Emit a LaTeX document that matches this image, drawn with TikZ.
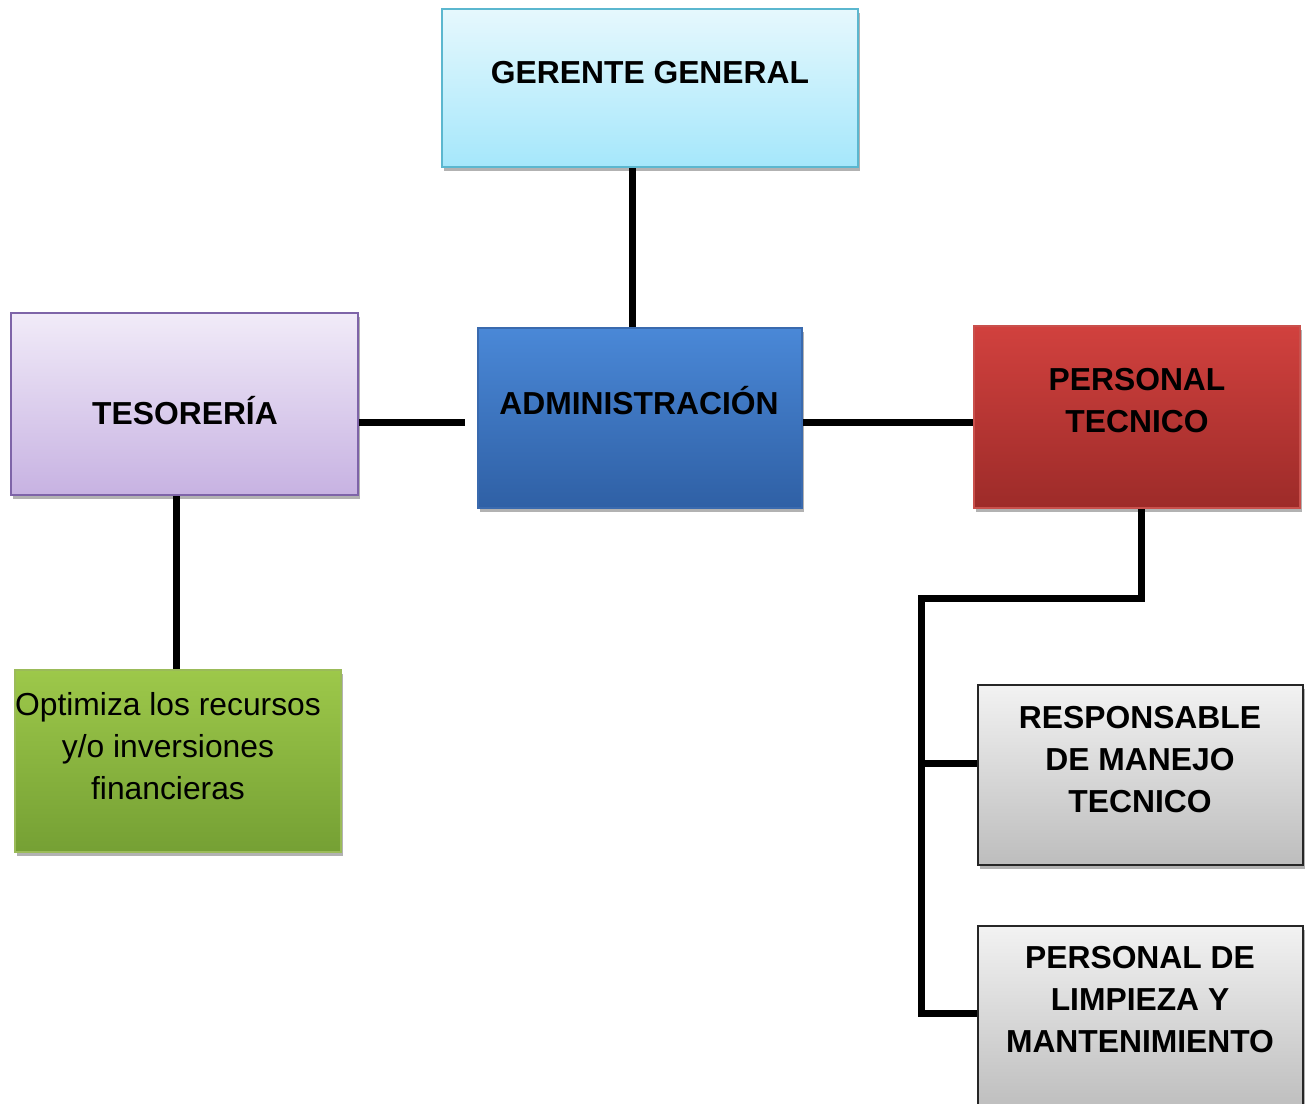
\documentclass[tikz,border=0pt]{standalone}
\usepackage{fontspec}
\setmainfont{Liberation Sans}
\usetikzlibrary{shadows}
\definecolor{gerT}{HTML}{E6F8FD}\definecolor{gerB}{HTML}{A5E7FB}\definecolor{gerD}{HTML}{5BB7CF}
\definecolor{tesT}{HTML}{F1EBF8}\definecolor{tesB}{HTML}{C7B2E2}\definecolor{tesD}{HTML}{7E64A8}
\definecolor{admT}{HTML}{4A88D7}\definecolor{admB}{HTML}{2F60A5}\definecolor{admD}{HTML}{3A6AAE}
\definecolor{ptT}{HTML}{D1413E}\definecolor{ptB}{HTML}{9D2B29}\definecolor{ptD}{HTML}{C9504C}
\definecolor{grT}{HTML}{F2F2F2}\definecolor{grB}{HTML}{BDBDBD}\definecolor{grD}{HTML}{262626}
\definecolor{gnT}{HTML}{9DC84A}\definecolor{gnB}{HTML}{75A034}\definecolor{gnD}{HTML}{9BBB59}
\tikzset{
  box/.style={rectangle, draw, line width=2pt, inner sep=0pt,
    drop shadow={shadow xshift=2pt, shadow yshift=-4pt, opacity=0.3, fill=black}},
  conn/.style={line width=7pt, line join=miter, line cap=butt},
  lbl/.style={align=center, inner sep=0pt, font=\fontsize{31.8}{42}\selectfont\bfseries},
  lblr/.style={align=center, inner sep=0pt, font=\fontsize{31.8}{42}\selectfont}
}
\begin{document}
\begin{tikzpicture}[x=1pt,y=-1pt]
\clip (0,0) rectangle (1309,1103);
\useasboundingbox (0,0) rectangle (1309,1103);
% boxes
\node[box, draw=gerD, top color=gerT, bottom color=gerB, minimum width=416, minimum height=158] (ger) at (650,88) {};
\node[box, draw=tesD, top color=tesT, bottom color=tesB, minimum width=347, minimum height=182] (tes) at (184.5,404) {};
\node[box, draw=admD, top color=admT, bottom color=admB, minimum width=324, minimum height=180] (adm) at (640,418) {};
\node[box, draw=ptD, top color=ptT, bottom color=ptB, minimum width=326, minimum height=182] (pt) at (1137,417) {};
\node[box, draw=gnD, top color=gnT, bottom color=gnB, minimum width=326, minimum height=182] (opt) at (178,761) {};
\node[box, draw=grD, top color=grT, bottom color=grB, minimum width=325, minimum height=180] (resp) at (1140.5,775) {};
\node[box, draw=grD, top color=grT, bottom color=grB, minimum width=325, minimum height=186] (lim) at (1140.5,1019) {};
% labels
\node[lbl] (gerL) at (650,73) {GERENTE GENERAL};
\node[lbl] (tesL) at (185,411) {TESORERÍA};
\node[lbl] (admL) at (639,401) {ADMINISTRACIÓN};
\node[lbl] (ptL) at (1137,401) {PERSONAL\\TECNICO};
\node[lbl] (respL) at (1140,760) {RESPONSABLE\\DE MANEJO\\TECNICO};
\node[lbl] (limL) at (1140,1000) {PERSONAL DE\\LIMPIEZA Y\\MANTENIMIENTO};
\node[lblr] (optL) at (168,746) {Optimiza los recursos\\y/o inversiones\\financieras};
% connectors
\coordinate (j) at (921,598);
\draw[conn] ([xshift=-18]ger.south) -- ([xshift=-8]adm.north);
\draw[conn] ([yshift=-18]tes.east) -- ([yshift=-18]tes.east -| 465,0);
\draw[conn] ([yshift=-4]adm.east) -- ([yshift=-4]adm.east -| pt.west);
\draw[conn] ([xshift=-8.5]tes.south) -- ([xshift=-8.5]tes.south |- opt.north);
\draw[conn] ([xshift=4]pt.south) |- (j) |- ([yshift=6]lim.west);
\draw[conn] ([yshift=12]resp.west -| j) -- ([yshift=12]resp.west);
\end{tikzpicture}
\end{document}
